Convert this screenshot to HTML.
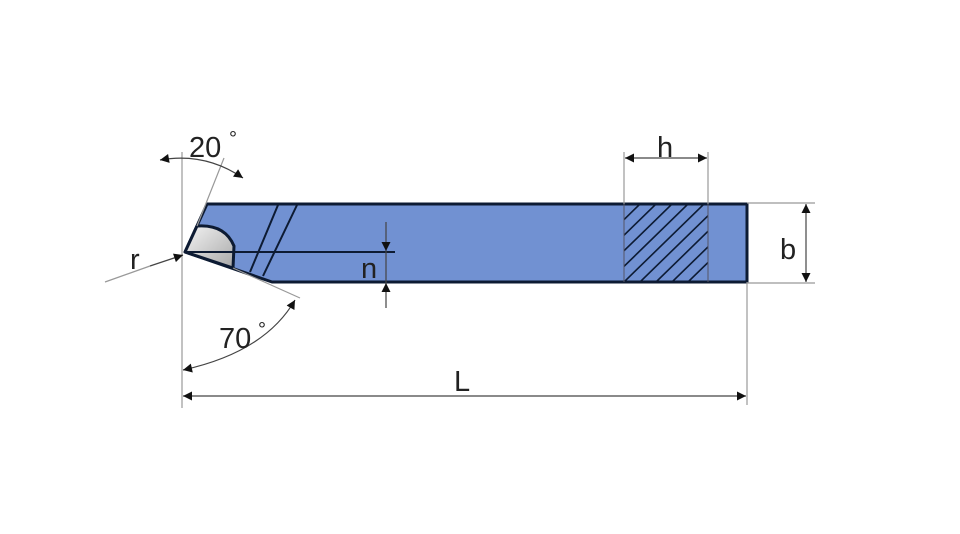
<!DOCTYPE html>
<html><head><meta charset="utf-8"><style>
html,body{margin:0;padding:0;background:#fff;width:960px;height:534px;overflow:hidden}
text{font-family:"Liberation Sans",sans-serif;fill:#222}
</style></head><body>
<svg width="960" height="534" viewBox="0 0 960 534" xmlns="http://www.w3.org/2000/svg">
<defs>
<marker id="a" viewBox="0 0 10 10" refX="10" refY="5" markerWidth="16" markerHeight="9" orient="auto-start-reverse" markerUnits="userSpaceOnUse"><path d="M0,0 L10,5 L0,10 z" fill="#111"/></marker>
<linearGradient id="g" x1="0" y1="0" x2="1" y2="1"><stop offset="0" stop-color="#f4f4f4"/><stop offset="1" stop-color="#a8a8a8"/></linearGradient>
<clipPath id="hc"><rect x="624" y="204" width="84" height="78"/></clipPath>
</defs>
<path d="M207,204 L747,204 L747,282 L272,282 L185,252 Z" fill="#7191d2" stroke="#0d1b33" stroke-width="3" stroke-linejoin="round"/>
<path d="M197,226 Q225,224 234,246 L233,268 L185,252 Z" fill="url(#g)" stroke="#0d1b33" stroke-width="3" stroke-linejoin="round"/>
<line x1="278" y1="205" x2="250" y2="272" stroke="#0d1b33" stroke-width="2"/>
<line x1="297" y1="205" x2="263" y2="276" stroke="#0d1b33" stroke-width="2"/>
<line x1="185" y1="252" x2="395" y2="252" stroke="#0d1b33" stroke-width="2"/>
<g clip-path="url(#hc)" stroke="#0d1b33" stroke-width="1.6">
<line x1="560" y1="282" x2="640" y2="204"/><line x1="576" y1="282" x2="656" y2="204"/><line x1="592" y1="282" x2="672" y2="204"/><line x1="608" y1="282" x2="688" y2="204"/><line x1="624" y1="282" x2="704" y2="204"/><line x1="640" y1="282" x2="720" y2="204"/><line x1="656" y1="282" x2="736" y2="204"/><line x1="672" y1="282" x2="752" y2="204"/><line x1="688" y1="282" x2="768" y2="204"/>
</g>
<line x1="624" y1="204" x2="624" y2="282" stroke="#556" stroke-width="1"/>
<line x1="708" y1="204" x2="708" y2="282" stroke="#556" stroke-width="1"/>
<g stroke="#999" stroke-width="1.2" fill="none">
<line x1="182" y1="152" x2="182" y2="408"/>
<line x1="747" y1="282" x2="747" y2="405"/>
<line x1="747" y1="203" x2="815" y2="203"/>
<line x1="747" y1="283" x2="815" y2="283"/>
<line x1="624" y1="152" x2="624" y2="204"/>
<line x1="708" y1="152" x2="708" y2="204"/>
<line x1="197" y1="226" x2="224" y2="158"/>
<line x1="233" y1="268" x2="300" y2="298"/>
<line x1="105" y1="282" x2="150" y2="266"/>
</g>
<g stroke="#444" stroke-width="1.2" fill="none">
<path d="M160,160 Q205,152 243,178" marker-start="url(#a)" marker-end="url(#a)"/>
<path d="M183,370 Q265,352 295,300" marker-start="url(#a)" marker-end="url(#a)"/>
<line x1="183" y1="396" x2="746" y2="396" marker-start="url(#a)" marker-end="url(#a)"/>
<line x1="625" y1="158" x2="707" y2="158" marker-start="url(#a)" marker-end="url(#a)"/>
<line x1="806" y1="204" x2="806" y2="282" marker-start="url(#a)" marker-end="url(#a)"/>
<line x1="150" y1="266" x2="183" y2="255" marker-end="url(#a)"/>
<line x1="386" y1="222" x2="386" y2="251" marker-end="url(#a)"/>
<line x1="386" y1="308" x2="386" y2="283" marker-end="url(#a)"/>
<line x1="386" y1="251" x2="386" y2="283"/>
</g>
<text x="189" y="157" font-size="29">20</text><text x="229" y="145" font-size="20">°</text>
<text x="219" y="348" font-size="29">70</text><text x="258" y="336" font-size="20">°</text>
<text x="130" y="269" font-size="29">r</text>
<text x="361" y="278" font-size="29">n</text>
<text x="657" y="157" font-size="29">h</text>
<text x="780" y="259" font-size="29">b</text>
<text x="454" y="391" font-size="29">L</text>
</svg>
</body></html>
